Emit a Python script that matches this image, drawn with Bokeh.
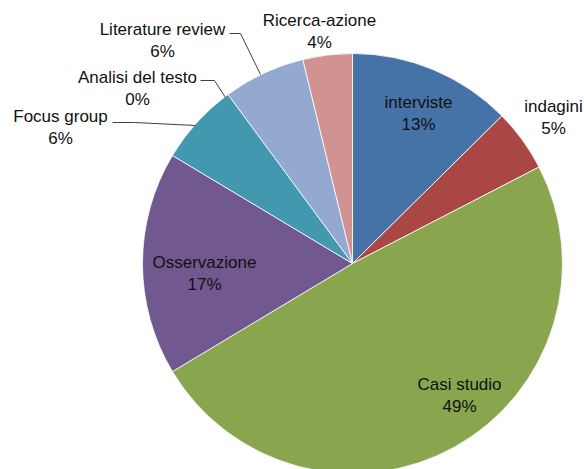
import math
from bokeh.plotting import figure
from bokeh.models import Range1d, ColumnDataSource
from bokeh.core.properties import value
from bokeh.embed import file_html
from bokeh.resources import INLINE

# ---- data ----
names = ["interviste", "indagini", "Casi studio", "Osservazione",
         "Focus group", "Analisi del testo", "Literature review", "Ricerca-azione"]
percent = [12.6, 4.8, 49.0, 17.2, 6.3, 0.0, 6.3, 3.8]
colors = ["#4572A7", "#AA4643", "#89A54E", "#71588F",
          "#4198AF", "#DB843D", "#93A9CF", "#D19392"]

# ---- layout (pixel coords, y measured from top) ----
W, H = 584, 469
CX, CY, R = 352, 263, 210
label_pos = [(418, 113), (553, 117), (459, 395), (204, 273),
             (60, 127), (137, 88), (162, 40), (319, 31)]
leaders = [None, None, None, None,
           [(112, 122), (134, 122), (195, 125)],
           [(200, 80), (214, 80), (225, 97)],
           [(229, 33), (240, 33), (260, 74)],
           None]

def fy(y):
    return H - y

total = sum(percent)
starts, ends, cols = [], [], []
cum = 0.0
for v, c in zip(percent, colors):
    s = math.pi / 2 - 2 * math.pi * cum / total
    cum += v
    e = math.pi / 2 - 2 * math.pi * cum / total
    if v > 0:
        starts.append(s)
        ends.append(e)
        cols.append(c)

p = figure(width=W, height=H, output_backend="svg", toolbar_location=None,
           x_range=Range1d(0, W), y_range=Range1d(0, H),
           x_axis_location=None, y_axis_location=None, min_border=0)
p.outline_line_color = None
p.grid.visible = False
p.background_fill_color = "white"

src = ColumnDataSource(dict(start=starts, end=ends, color=cols))
p.wedge(x=CX, y=fy(CY), radius=R, start_angle="start", end_angle="end",
        direction="clock", fill_color="color", line_color="white",
        line_width=0.8, source=src)

for ld in leaders:
    if ld:
        p.line([a for a, b in ld], [fy(b) for a, b in ld],
               line_color="#404040", line_width=1)

texts = [f"{n}\n{round(v)}%" for n, v in zip(names, percent)]
lsrc = ColumnDataSource(dict(x=[a for a, b in label_pos],
                             y=[fy(b) for a, b in label_pos], t=texts))
p.text(x="x", y="y", text="t", source=lsrc, text_align="center",
       text_baseline="middle", text_font=value("Liberation Sans"),
       text_font_size="17px", text_line_height=1.2, text_color="#111111")

open("out.html", "w").write(file_html(p, INLINE))
